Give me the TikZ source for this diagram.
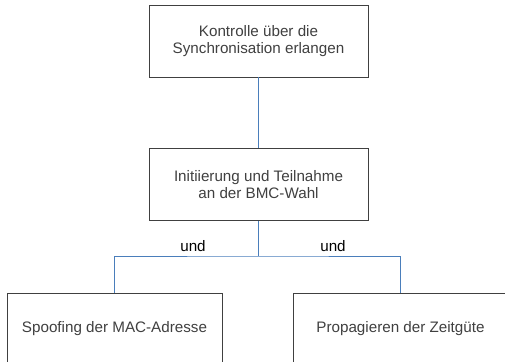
\documentclass[tikz,border=0pt]{standalone}
\usepackage{fontspec}
\setmainfont{Liberation Sans}
\definecolor{boxline}{HTML}{404040}
\definecolor{txt}{HTML}{404040}
\definecolor{conn}{HTML}{4A7EBB}
\begin{document}
\begin{tikzpicture}[x=1pt,y=-1pt,
  box/.style={draw=boxline,line width=0.9pt,fill=white,minimum width=219pt,minimum height=72pt,
    align=center,text=txt,font=\fontsize{15.2}{17.3}\selectfont,inner sep=0pt},
  leaf/.style={box,minimum width=215pt},
  conn/.style={draw=conn,line width=1pt},
  lbl/.style={font=\fontsize{15.2}{17}\selectfont,text=black,inner sep=0pt}]
\useasboundingbox (0,0) rectangle (505,361);
\clip (0,0) rectangle (505,361);
\node[box] (top) at (258.5,41) {Kontrolle über die\\Synchronisation erlangen};
\node[box] (mid) at (258.5,184.5) {Initiierung und Teilnahme\\an der BMC-Wahl};
\node[leaf] (l) at (114.5,329) {Spoofing der MAC-Adresse};
\node[leaf] (r) at (400.5,329) {Propagieren der Zeitgüte};
\coordinate (j) at (mid.south |- 0,256);
\draw[conn] (top.south) -- (mid.north);
\draw[conn] (mid.south) -- (j);
\draw[conn] (l.north) |- (j) -| (r.north);
\node[lbl] (u1) at (193,246) {und};
\node[lbl] (u2) at (333,246) {und};
\end{tikzpicture}
\end{document}
